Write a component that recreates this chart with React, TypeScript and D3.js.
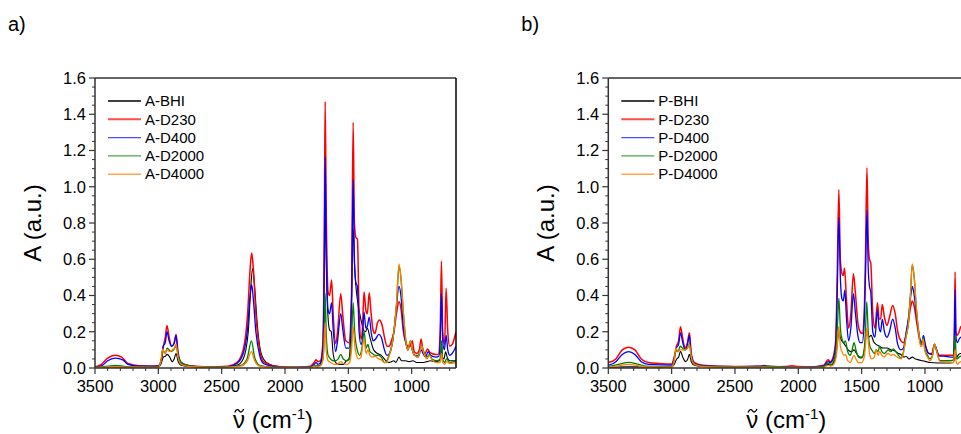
import React from "react";
import * as d3 from "d3";

// [wavenumber cm-1, absorbance]
const aBHI = [
  [3500, 0.003], [3400, 0.005], [3340, 0.006], [3200, 0.004], [3000, 0.005], [2980, 0.02], [2960, 0.06], [2945, 0.065],
  [2930, 0.075], [2910, 0.06], [2890, 0.035], [2875, 0.05], [2860, 0.08], [2845, 0.04], [2820, 0.015], [2750, 0.007],
  [2500, 0.005], [2380, 0.015], [2330, 0.05], [2290, 0.2], [2270, 0.45], [2255, 0.55], [2240, 0.45], [2220, 0.25],
  [2200, 0.12], [2170, 0.05], [2120, 0.02], [2050, 0.008], [1900, 0.003], [1800, 0.003], [1765, 0.01], [1740, 0.005],
  [1720, 0.02], [1700, 0.1], [1690, 0.5], [1683, 0.98], [1675, 0.6], [1662, 0.3], [1648, 0.21], [1635, 0.2],
  [1620, 0.08], [1600, 0.03], [1570, 0.02], [1540, 0.02], [1515, 0.04], [1495, 0.05], [1478, 0.25], [1462, 0.77],
  [1450, 0.55], [1440, 0.45], [1425, 0.36], [1410, 0.3], [1395, 0.25], [1380, 0.21], [1365, 0.2], [1350, 0.22],
  [1330, 0.17], [1300, 0.1], [1270, 0.08], [1240, 0.07], [1210, 0.045], [1180, 0.03], [1160, 0.035], [1140, 0.04],
  [1125, 0.03], [1100, 0.06], [1080, 0.04], [1050, 0.04], [1020, 0.035], [990, 0.04], [960, 0.03], [920, 0.03],
  [880, 0.035], [850, 0.04], [820, 0.035], [780, 0.04], [770, 0.06], [764, 0.14], [757, 0.06], [745, 0.05],
  [732, 0.09], [720, 0.06], [700, 0.04], [650, 0.04],
];
const aD230 = [
  [3500, 0.005], [3450, 0.02], [3400, 0.055], [3340, 0.07], [3290, 0.06], [3240, 0.025], [3150, 0.012], [3050, 0.01],
  [3000, 0.012], [2975, 0.05], [2960, 0.12], [2945, 0.17], [2932, 0.235], [2915, 0.17], [2895, 0.12], [2875, 0.14],
  [2860, 0.185], [2845, 0.09], [2820, 0.03], [2750, 0.012], [2600, 0.006], [2450, 0.01], [2380, 0.03], [2330, 0.1],
  [2295, 0.3], [2275, 0.55], [2263, 0.635], [2250, 0.55], [2230, 0.3], [2200, 0.1], [2170, 0.035], [2100, 0.012],
  [2000, 0.005], [1900, 0.004], [1800, 0.01], [1770, 0.03], [1755, 0.045], [1740, 0.035], [1720, 0.04], [1700, 0.15],
  [1690, 0.7], [1683, 1.47], [1675, 0.9], [1660, 0.42], [1648, 0.4], [1632, 0.486], [1620, 0.3], [1600, 0.135],
  [1585, 0.2], [1560, 0.41], [1545, 0.3], [1520, 0.15], [1495, 0.14], [1475, 0.4], [1462, 1.355], [1452, 0.8],
  [1440, 0.72], [1428, 0.71], [1415, 0.3], [1398, 0.16], [1390, 0.2], [1376, 0.42], [1362, 0.32], [1350, 0.3],
  [1335, 0.415], [1320, 0.3], [1305, 0.21], [1290, 0.19], [1270, 0.25], [1254, 0.265], [1235, 0.24], [1215, 0.17],
  [1195, 0.12], [1178, 0.12], [1160, 0.15], [1140, 0.2], [1120, 0.3], [1100, 0.366], [1085, 0.33], [1065, 0.2],
  [1040, 0.13], [1030, 0.12], [1010, 0.12], [995, 0.15], [980, 0.09], [960, 0.08], [940, 0.1], [925, 0.16],
  [912, 0.1], [895, 0.08], [875, 0.105], [860, 0.09], [840, 0.08], [810, 0.075], [790, 0.075], [775, 0.2],
  [765, 0.59], [755, 0.2], [740, 0.13], [728, 0.44], [715, 0.2], [700, 0.12], [680, 0.13], [650, 0.2],
];
const aD400 = [
  [3500, 0.003], [3440, 0.015], [3400, 0.04], [3340, 0.055], [3280, 0.045], [3240, 0.02], [3150, 0.01], [3000, 0.01],
  [2975, 0.05], [2962, 0.12], [2945, 0.14], [2932, 0.2], [2915, 0.15], [2895, 0.12], [2875, 0.135], [2860, 0.18],
  [2845, 0.08], [2820, 0.03], [2750, 0.01], [2600, 0.005], [2450, 0.008], [2380, 0.025], [2330, 0.08], [2295, 0.22],
  [2275, 0.4], [2263, 0.46], [2250, 0.38], [2230, 0.2], [2200, 0.07], [2170, 0.025], [2100, 0.01], [2000, 0.004],
  [1800, 0.006], [1770, 0.02], [1755, 0.03], [1740, 0.02], [1720, 0.03], [1700, 0.12], [1690, 0.6], [1683, 1.165],
  [1675, 0.7], [1660, 0.32], [1648, 0.3], [1632, 0.36], [1620, 0.22], [1600, 0.09], [1585, 0.15], [1560, 0.3],
  [1545, 0.22], [1520, 0.11], [1495, 0.11], [1475, 0.35], [1462, 1.04], [1452, 0.6], [1440, 0.47], [1428, 0.45],
  [1415, 0.2], [1400, 0.13], [1390, 0.15], [1376, 0.31], [1362, 0.22], [1350, 0.23], [1335, 0.28], [1320, 0.2],
  [1305, 0.15], [1285, 0.16], [1260, 0.185], [1240, 0.17], [1215, 0.1], [1195, 0.07], [1175, 0.08], [1150, 0.15],
  [1125, 0.3], [1100, 0.45], [1085, 0.4], [1065, 0.22], [1040, 0.12], [1030, 0.1], [1010, 0.14], [995, 0.1],
  [975, 0.07], [950, 0.06], [925, 0.1], [910, 0.08], [890, 0.06], [870, 0.09], [850, 0.07], [810, 0.06],
  [785, 0.065], [775, 0.15], [765, 0.41], [755, 0.15], [742, 0.1], [728, 0.18], [715, 0.1], [700, 0.07],
  [680, 0.08], [650, 0.12],
];
const aD2000 = [
  [3500, 0.003], [3400, 0.01], [3340, 0.015], [3250, 0.008], [3000, 0.005], [2975, 0.05], [2965, 0.1], [2945, 0.08],
  [2930, 0.11], [2900, 0.09], [2880, 0.1], [2860, 0.12], [2840, 0.06], [2800, 0.02], [2700, 0.008], [2500, 0.005],
  [2350, 0.015], [2300, 0.05], [2265, 0.15], [2240, 0.06], [2200, 0.015], [2100, 0.005], [1800, 0.003], [1760, 0.015],
  [1730, 0.01], [1700, 0.05], [1690, 0.2], [1683, 0.41], [1675, 0.2], [1660, 0.07], [1640, 0.05], [1620, 0.04],
  [1600, 0.04], [1580, 0.05], [1560, 0.075], [1540, 0.05], [1510, 0.04], [1490, 0.05], [1475, 0.15], [1462, 0.36],
  [1450, 0.2], [1430, 0.1], [1410, 0.07], [1395, 0.1], [1375, 0.2], [1360, 0.11], [1345, 0.13], [1330, 0.09],
  [1310, 0.08], [1290, 0.07], [1260, 0.07], [1240, 0.06], [1215, 0.03], [1200, 0.035], [1180, 0.07], [1150, 0.15],
  [1120, 0.35], [1100, 0.56], [1085, 0.5], [1065, 0.3], [1040, 0.12], [1030, 0.1], [1010, 0.15], [995, 0.1],
  [980, 0.07], [950, 0.07], [920, 0.12], [905, 0.09], [880, 0.06], [860, 0.075], [840, 0.05], [800, 0.04],
  [775, 0.05], [765, 0.15], [755, 0.05], [740, 0.03], [725, 0.05], [700, 0.03], [650, 0.04],
];
const aD4000 = [
  [3500, 0.002], [3400, 0.006], [3340, 0.008], [3250, 0.005], [3000, 0.004], [2980, 0.04], [2965, 0.105], [2950, 0.08],
  [2932, 0.1], [2910, 0.09], [2890, 0.1], [2875, 0.11], [2860, 0.13], [2845, 0.06], [2820, 0.02], [2750, 0.008],
  [2500, 0.004], [2350, 0.01], [2300, 0.035], [2265, 0.09], [2240, 0.04], [2200, 0.01], [2100, 0.004], [1800, 0.003],
  [1760, 0.01], [1730, 0.008], [1705, 0.03], [1692, 0.12], [1683, 0.25], [1675, 0.1], [1660, 0.04], [1640, 0.03],
  [1610, 0.02], [1590, 0.02], [1560, 0.035], [1540, 0.025], [1510, 0.02], [1490, 0.03], [1475, 0.1], [1462, 0.23],
  [1450, 0.13], [1435, 0.07], [1420, 0.05], [1400, 0.06], [1388, 0.12], [1375, 0.16], [1360, 0.08], [1345, 0.1],
  [1330, 0.07], [1310, 0.06], [1290, 0.065], [1260, 0.05], [1240, 0.045], [1215, 0.03], [1200, 0.03], [1180, 0.06],
  [1150, 0.15], [1120, 0.35], [1100, 0.575], [1085, 0.5], [1065, 0.3], [1040, 0.12], [1030, 0.1], [1010, 0.15],
  [995, 0.1], [980, 0.07], [950, 0.06], [920, 0.12], [905, 0.085], [880, 0.05], [860, 0.07], [840, 0.045],
  [800, 0.03], [775, 0.03], [765, 0.08], [755, 0.03], [740, 0.02], [725, 0.035], [700, 0.025], [650, 0.03],
];

const pBHI = [
  [3500, 0.004], [3340, 0.006], [3100, 0.005], [3000, 0.006], [2980, 0.02], [2960, 0.05], [2945, 0.06], [2930, 0.092],
  [2912, 0.06], [2890, 0.035], [2875, 0.045], [2860, 0.075], [2845, 0.035], [2820, 0.015], [2750, 0.008], [2500, 0.005],
  [2300, 0.008], [2270, 0.015], [2240, 0.008], [2150, 0.003], [1900, 0.002], [1800, 0.005], [1765, 0.02], [1745, 0.015],
  [1720, 0.03], [1700, 0.08], [1690, 0.15], [1680, 0.2], [1665, 0.16], [1645, 0.14], [1625, 0.12], [1600, 0.095],
  [1580, 0.09], [1560, 0.1], [1540, 0.08], [1515, 0.06], [1495, 0.06], [1475, 0.12], [1460, 0.21], [1445, 0.17],
  [1425, 0.18], [1405, 0.145], [1385, 0.13], [1360, 0.12], [1330, 0.11], [1300, 0.11], [1270, 0.1], [1240, 0.095],
  [1210, 0.08], [1190, 0.075], [1165, 0.06], [1150, 0.065], [1125, 0.05], [1100, 0.06], [1075, 0.05], [1050, 0.045],
  [1020, 0.04], [990, 0.035], [960, 0.03], [900, 0.028], [850, 0.028], [800, 0.028], [775, 0.03], [765, 0.06],
  [755, 0.05], [740, 0.07], [720, 0.08], [700, 0.08], [650, 0.08],
];
const pD230 = [
  [3500, 0.03], [3440, 0.05], [3390, 0.1], [3340, 0.115], [3290, 0.1], [3240, 0.05], [3180, 0.03], [3100, 0.025],
  [3000, 0.022], [2980, 0.06], [2962, 0.12], [2945, 0.15], [2930, 0.228], [2912, 0.16], [2893, 0.11], [2875, 0.14],
  [2860, 0.195], [2845, 0.08], [2820, 0.03], [2750, 0.015], [2600, 0.01], [2400, 0.008], [2270, 0.01], [2200, 0.006],
  [2100, 0.008], [2050, 0.012], [2000, 0.008], [1900, 0.006], [1800, 0.015], [1765, 0.045], [1748, 0.035], [1725, 0.06],
  [1705, 0.15], [1693, 0.5], [1680, 0.985], [1668, 0.6], [1655, 0.52], [1645, 0.51], [1635, 0.55], [1620, 0.38],
  [1603, 0.22], [1585, 0.3], [1565, 0.52], [1550, 0.42], [1530, 0.25], [1512, 0.2], [1495, 0.19], [1480, 0.3],
  [1470, 0.6], [1458, 1.105], [1448, 0.7], [1438, 0.6], [1428, 0.58], [1412, 0.3], [1395, 0.22], [1375, 0.36],
  [1362, 0.27], [1350, 0.27], [1337, 0.35], [1320, 0.28], [1300, 0.235], [1280, 0.28], [1255, 0.345], [1235, 0.3],
  [1215, 0.2], [1190, 0.15], [1170, 0.14], [1150, 0.18], [1130, 0.26], [1112, 0.34], [1100, 0.37], [1085, 0.34],
  [1065, 0.25], [1040, 0.15], [1025, 0.13], [1012, 0.16], [995, 0.12], [970, 0.08], [945, 0.08], [925, 0.13],
  [908, 0.1], [890, 0.07], [850, 0.07], [800, 0.07], [775, 0.07], [768, 0.2], [762, 0.53], [756, 0.2],
  [745, 0.18], [730, 0.2], [715, 0.23], [650, 0.23],
];
const pD400 = [
  [3500, 0.015], [3440, 0.035], [3390, 0.075], [3340, 0.09], [3290, 0.075], [3240, 0.035], [3180, 0.02], [3000, 0.016],
  [2980, 0.05], [2962, 0.11], [2945, 0.13], [2930, 0.195], [2912, 0.14], [2893, 0.1], [2875, 0.13], [2860, 0.18],
  [2845, 0.07], [2820, 0.025], [2750, 0.012], [2500, 0.008], [2270, 0.01], [2000, 0.004], [1800, 0.01], [1765, 0.035],
  [1748, 0.03], [1725, 0.05], [1705, 0.13], [1693, 0.4], [1680, 0.83], [1668, 0.5], [1655, 0.38], [1645, 0.37],
  [1633, 0.43], [1620, 0.28], [1603, 0.15], [1585, 0.22], [1565, 0.41], [1550, 0.31], [1530, 0.18], [1512, 0.14],
  [1495, 0.14], [1480, 0.25], [1470, 0.5], [1458, 0.87], [1448, 0.55], [1438, 0.45], [1428, 0.42], [1412, 0.2],
  [1395, 0.17], [1375, 0.32], [1362, 0.22], [1350, 0.2], [1337, 0.27], [1320, 0.2], [1300, 0.17], [1280, 0.2],
  [1255, 0.27], [1235, 0.22], [1215, 0.13], [1190, 0.1], [1170, 0.11], [1150, 0.19], [1130, 0.28], [1112, 0.4],
  [1100, 0.45], [1085, 0.4], [1065, 0.28], [1040, 0.16], [1025, 0.14], [1012, 0.18], [995, 0.12], [970, 0.08],
  [945, 0.075], [925, 0.13], [908, 0.1], [890, 0.065], [850, 0.065], [800, 0.06], [775, 0.06], [768, 0.18],
  [762, 0.43], [756, 0.18], [745, 0.14], [730, 0.16], [715, 0.17], [650, 0.17],
];
const pD2000 = [
  [3500, 0.008], [3420, 0.02], [3340, 0.031], [3260, 0.02], [3200, 0.01], [3100, 0.008], [3000, 0.008], [2980, 0.04],
  [2965, 0.1], [2950, 0.09], [2932, 0.12], [2915, 0.11], [2895, 0.1], [2875, 0.11], [2860, 0.135], [2845, 0.06],
  [2820, 0.02], [2750, 0.01], [2500, 0.006], [2300, 0.005], [2270, 0.01], [2000, 0.003], [1800, 0.006], [1765, 0.025],
  [1740, 0.02], [1720, 0.04], [1700, 0.12], [1690, 0.25], [1680, 0.385], [1668, 0.22], [1655, 0.16], [1640, 0.14],
  [1628, 0.15], [1610, 0.09], [1590, 0.07], [1575, 0.1], [1560, 0.14], [1545, 0.1], [1525, 0.06], [1500, 0.055],
  [1480, 0.1], [1470, 0.2], [1460, 0.365], [1448, 0.2], [1435, 0.12], [1420, 0.1], [1400, 0.08], [1385, 0.1],
  [1370, 0.09], [1358, 0.12], [1340, 0.09], [1320, 0.08], [1305, 0.09], [1290, 0.1], [1270, 0.09], [1250, 0.105],
  [1230, 0.09], [1210, 0.07], [1190, 0.055], [1170, 0.09], [1150, 0.17], [1130, 0.25], [1115, 0.4], [1100, 0.57],
  [1085, 0.5], [1070, 0.35], [1050, 0.2], [1035, 0.13], [1025, 0.13], [1015, 0.17], [1000, 0.1], [980, 0.07],
  [960, 0.05], [940, 0.07], [925, 0.13], [910, 0.1], [895, 0.06], [880, 0.04], [850, 0.04], [800, 0.04],
  [775, 0.045], [768, 0.1], [762, 0.18], [755, 0.08], [745, 0.05], [730, 0.06], [715, 0.065], [650, 0.065],
];
const pD4000 = [
  [3500, 0.005], [3420, 0.012], [3340, 0.02], [3260, 0.012], [3200, 0.006], [3000, 0.005], [2980, 0.04], [2965, 0.11],
  [2950, 0.09], [2932, 0.1], [2915, 0.1], [2895, 0.1], [2875, 0.11], [2860, 0.13], [2845, 0.06], [2820, 0.02],
  [2750, 0.008], [2500, 0.005], [2270, 0.005], [2000, 0.003], [1800, 0.004], [1765, 0.015], [1740, 0.01], [1720, 0.02],
  [1700, 0.07], [1690, 0.15], [1680, 0.23], [1668, 0.12], [1655, 0.09], [1640, 0.07], [1628, 0.075], [1610, 0.04],
  [1590, 0.03], [1575, 0.05], [1560, 0.07], [1545, 0.05], [1525, 0.03], [1500, 0.03], [1480, 0.06], [1470, 0.12],
  [1460, 0.22], [1448, 0.15], [1435, 0.07], [1420, 0.05], [1400, 0.06], [1385, 0.1], [1370, 0.07], [1358, 0.09],
  [1340, 0.07], [1320, 0.06], [1305, 0.075], [1290, 0.08], [1270, 0.07], [1250, 0.075], [1230, 0.065], [1210, 0.055],
  [1190, 0.05], [1170, 0.08], [1150, 0.17], [1130, 0.25], [1115, 0.4], [1100, 0.575], [1085, 0.5], [1070, 0.35],
  [1050, 0.2], [1035, 0.12], [1025, 0.12], [1015, 0.16], [1000, 0.09], [980, 0.06], [960, 0.04], [940, 0.07],
  [925, 0.135], [910, 0.1], [895, 0.06], [880, 0.035], [850, 0.035], [800, 0.03], [775, 0.03], [768, 0.07],
  [762, 0.1], [755, 0.04], [745, 0.02], [730, 0.03], [715, 0.035], [650, 0.035],
];

const seriesColors = ["#000000", "#ff0000", "#0000ff", "#008000", "#ff8000"];
const seriesWidths = [1.1, 1.5, 1.3, 1.3, 1.3];
const aNames = ["A-BHI", "A-D230", "A-D400", "A-D2000", "A-D4000"];
const pNames = ["P-BHI", "P-D230", "P-D400", "P-D2000", "P-D4000"];
const aSeries = [aBHI, aD230, aD400, aD2000, aD4000];
const pSeries = [pBHI, pD230, pD400, pD2000, pD4000];

const xTicks = [3500, 3000, 2500, 2000, 1500, 1000];
const yTicks = [0, 0.2, 0.4, 0.6, 0.8, 1.0, 1.2, 1.4, 1.6];

const W = 961;
const H = 434;
const plotW = 361;
const top = 78;
const bottom = 368;
const font = "'Liberation Sans', Arial, sans-serif";
const axisColor = "#333";

function Panel({ left, label, names, series, id }) {
  const x = d3.scaleLinear().domain([3500, 650]).range([left, left + plotW]);
  const y = d3.scaleLinear().domain([0, 1.6]).range([bottom, top]);
  const line = d3
    .line()
    .x((d) => x(d[0]))
    .y((d) => y(d[1]))
    .curve(d3.curveMonotoneX);
  const minorX = d3.range(3500, 649, -100).filter((v) => v % 500 !== 0);
  const minorY = d3.range(0, 1.6001, 0.05).filter((v) => Math.abs(v / 0.2 - Math.round(v / 0.2)) > 1e-6);
  const right = left + plotW;
  const nuX = left + 138;
  const tx = nuX + 6.2; // tilde centre over the nu

  return (
    <g fontFamily={font}>
      <text x={left - 87} y={31} fontSize={20}>{label}</text>
      <clipPath id={id}>
        <rect x={left} y={top} width={plotW} height={bottom - top} />
      </clipPath>
      <g clipPath={`url(#${id})`}>
        {series.map((s, i) => (
          <path key={i} d={line(s)} fill="none" stroke={seriesColors[i]} strokeWidth={seriesWidths[i]} strokeLinejoin="round" />
        ))}
      </g>
      {/* frame */}
      <line x1={left} x2={right} y1={top} y2={top} stroke={axisColor} strokeWidth={1.5} />
      <line x1={right} x2={right} y1={top} y2={bottom} stroke="#000" strokeWidth={1.5} />
      <line x1={left} x2={left} y1={top} y2={bottom} stroke={axisColor} strokeWidth={1.5} />
      <line x1={left} x2={right} y1={bottom} y2={bottom} stroke={axisColor} strokeWidth={1.5} />
      {/* y ticks */}
      {yTicks.map((t) => (
        <g key={t}>
          <line x1={left - 6} x2={left} y1={y(t)} y2={y(t)} stroke={axisColor} strokeWidth={1.2} />
          <text x={left - 9} y={y(t)} dy="0.35em" textAnchor="end" fontSize={16.5} fill="#000">
            {t.toFixed(1)}
          </text>
        </g>
      ))}
      {minorY.map((t) => (
        <line key={t} x1={left - 3} x2={left} y1={y(t)} y2={y(t)} stroke={axisColor} strokeWidth={1} />
      ))}
      {/* x ticks */}
      {xTicks.map((t) => (
        <g key={t}>
          <line x1={x(t)} x2={x(t)} y1={bottom} y2={bottom + 6} stroke={axisColor} strokeWidth={1.2} />
          <text x={x(t)} y={392} textAnchor="middle" fontSize={16.5} fill="#000">
            {t}
          </text>
        </g>
      ))}
      {minorX.map((t) => (
        <line key={t} x1={x(t)} x2={x(t)} y1={bottom} y2={bottom + 3} stroke={axisColor} strokeWidth={1} />
      ))}
      {/* axis titles */}
      <text transform={`translate(${left - 54},${(top + bottom) / 2}) rotate(-90)`} textAnchor="middle" fontSize={24}>
        A (a.u.)
      </text>
      <text x={nuX} y={428} fontSize={24}>
        {"\u03BD (cm"}
        <tspan dy={-9} fontSize={15}>-1</tspan>
        <tspan dy={9}>)</tspan>
      </text>
      <path
        d={`M${tx - 4.5},${412.5} C${tx - 3},${409} ${tx - 1.2},${409} ${tx},${410.8} S${tx + 3},${412.6} ${tx + 4.5},${409}`}
        fill="none"
        stroke="#000"
        strokeWidth={1.3}
      />
      {/* legend */}
      {names.map((n, i) => (
        <g key={n} transform={`translate(${left + 13},${101 + i * 18.3})`}>
          <line x1={0} x2={33} y1={0} y2={0} stroke={seriesColors[i]} strokeWidth={i === 1 ? 2 : 1.4} strokeOpacity={i === 0 ? 1 : 0.7} />
          <text x={37} y={0} dy="0.35em" fontSize={15}>{n}</text>
        </g>
      ))}
    </g>
  );
}

export default function App() {
  return (
    <svg width={W} height={H} style={{ position: "absolute", left: 0, top: 0, background: "#fff" }}>
      <rect width={W} height={H} fill="#fff" />
      <Panel left={95} label="a)" names={aNames} series={aSeries} id="clipA" />
      <Panel left={608.3} label="b)" names={pNames} series={pSeries} id="clipP" />
    </svg>
  );
}
